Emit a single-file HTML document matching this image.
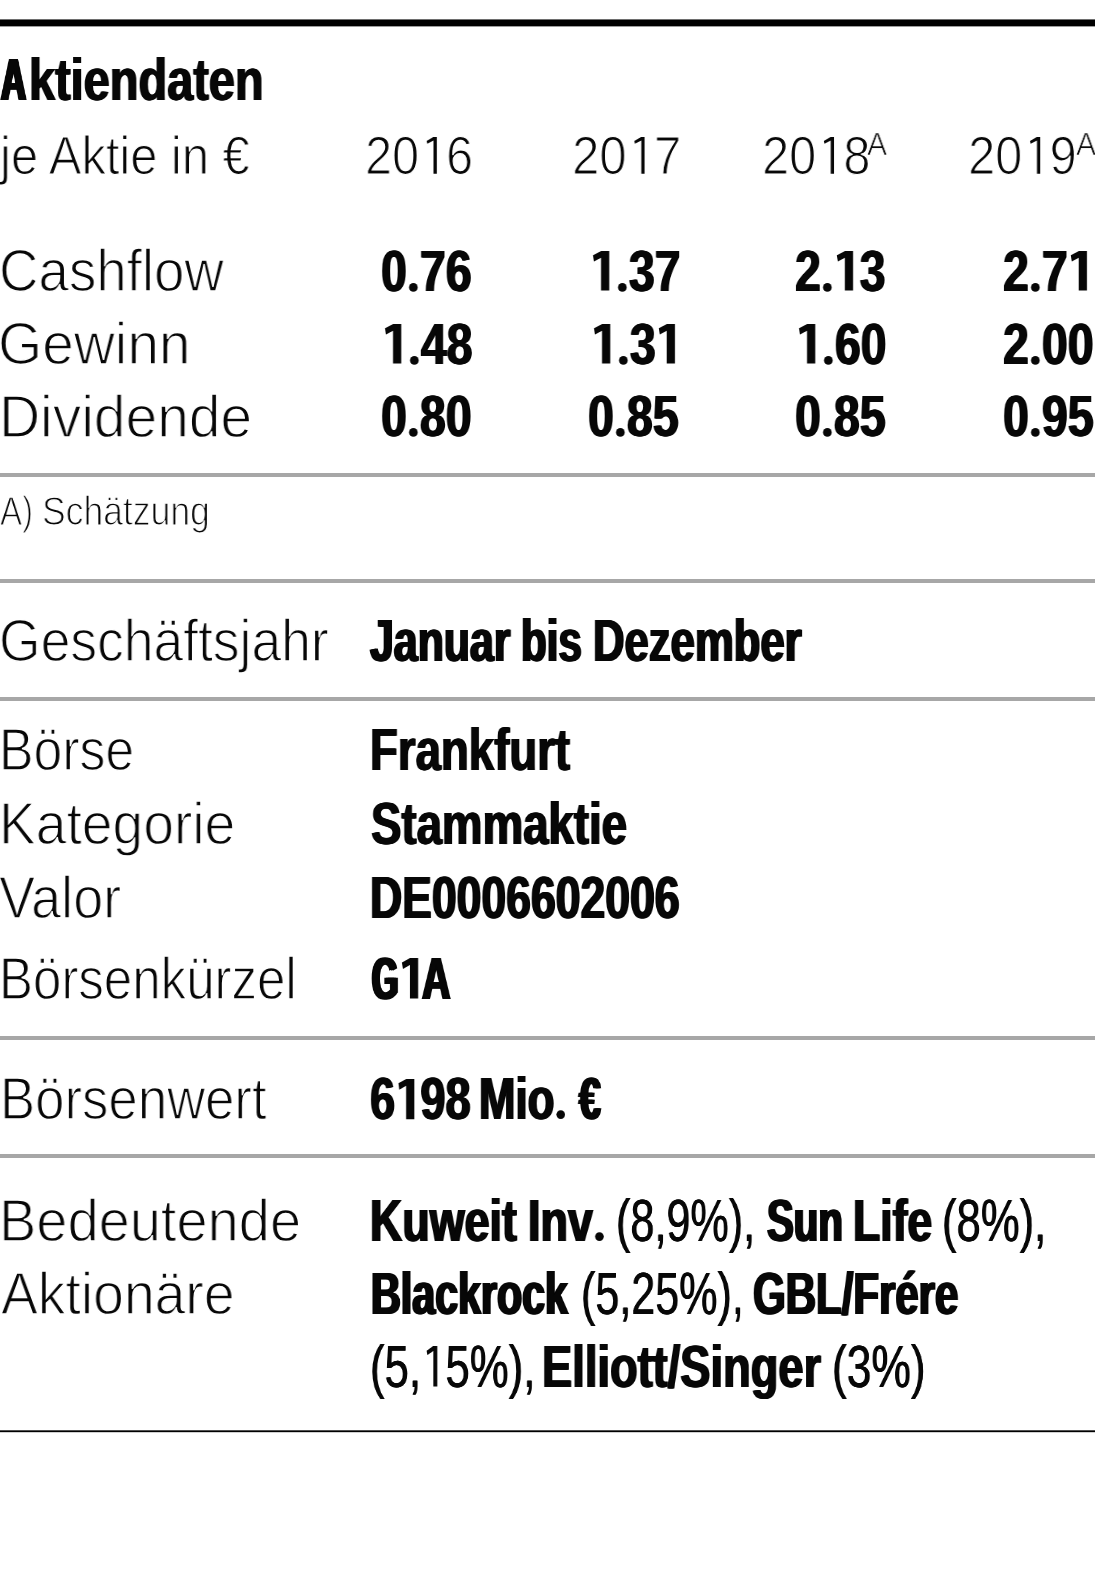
<!DOCTYPE html>
<html lang="de"><head><meta charset="utf-8"><title>Aktiendaten</title>
<style>
html,body{margin:0;padding:0;background:#fff;}
html{overflow:hidden;}
body{width:1095px;height:1595px;position:relative;overflow:hidden;font-family:"Liberation Sans",sans-serif;color:#070707;}
#page{position:absolute;left:0;top:0;width:1095px;height:1595px;overflow:hidden;background:#fff;}
.t{position:absolute;white-space:pre;line-height:1;transform-origin:0 0;margin:0;padding:0;will-change:transform;}
.L{font-weight:400;}
.B{font-weight:700;}
.r{position:absolute;left:0;width:1095px;}
.gd{display:inline-block;width:0.27783em;height:0.2002em;vertical-align:baseline;fill:#070707;overflow:visible;}
.g1{display:inline-block;width:0.55615em;height:0.68799em;vertical-align:baseline;fill:#070707;overflow:visible;}
</style></head>
<body>
<div id="page">
<div class="r" style="top:19px;height:1px;background:#6e6e6e"></div>
<div class="r" style="top:20px;height:6px;background:#000"></div>
<div class="r" style="top:26px;height:1px;background:#9c9c9c"></div>
<div class="r" style="top:473px;height:4px;background:#a7a7a7"></div>
<div class="r" style="top:579px;height:4px;background:#a7a7a7"></div>
<div class="r" style="top:697px;height:4px;background:#a7a7a7"></div>
<div class="r" style="top:1036px;height:4px;background:#a7a7a7"></div>
<div class="r" style="top:1154px;height:4px;background:#a7a7a7"></div>
<div class="r" style="top:1430px;height:1px;background:#505050"></div>
<div class="r" style="top:1431px;height:1px;background:#000"></div>
<div class="r" style="top:1432px;height:1px;background:#d0d0d0"></div>
<span class="t B" style="left:1.24px;top:50.87px;font-size:58.5px;transform:scaleX(0.5908);text-shadow:2.76px 0 0 #070707,-2.76px 0 0 #070707;">A</span>
<span class="t B" style="left:28.84px;top:50.87px;font-size:58.5px;transform:scaleX(0.8018);text-shadow:0.93px 0 0 #070707,-0.93px 0 0 #070707;">ktiendaten</span>
<span class="t L" style="left:-0.19px;top:128.70px;font-size:53.5px;transform:scaleX(0.9128);-webkit-text-stroke:1.23px #fff;">je Aktie in €</span>
<span class="t L" style="left:365.47px;top:128.90px;font-size:53.5px;transform:scaleX(0.9080);-webkit-text-stroke:1.23px #fff;">20<svg class="g1" viewBox="0 0 1139 1409" preserveAspectRatio="none"><polygon points="729,0 729,1409 592,1409 592,135 327,259 300,157 582,0"/></svg>6</span>
<span class="t L" style="left:572.24px;top:128.90px;font-size:53.5px;transform:scaleX(0.9178);-webkit-text-stroke:1.23px #fff;">20<svg class="g1" viewBox="0 0 1139 1409" preserveAspectRatio="none"><polygon points="728,0 728,1409 593,1409 593,135 328,259 301,157 583,0"/></svg>7</span>
<span class="t L" style="left:761.56px;top:128.90px;font-size:53.5px;transform:scaleX(0.9107);-webkit-text-stroke:1.23px #fff;">20<svg class="g1" viewBox="0 0 1139 1409" preserveAspectRatio="none"><polygon points="729,0 729,1409 592,1409 592,135 327,259 300,157 582,0"/></svg>8</span>
<span class="t L" style="left:867.46px;top:129.33px;font-size:31.5px;transform:scaleX(0.9559);-webkit-text-stroke:0.72px #fff;">A</span>
<span class="t L" style="left:967.96px;top:128.90px;font-size:53.5px;transform:scaleX(0.9134);-webkit-text-stroke:1.23px #fff;">20<svg class="g1" viewBox="0 0 1139 1409" preserveAspectRatio="none"><polygon points="729,0 729,1409 593,1409 593,135 328,259 301,157 583,0"/></svg>9</span>
<span class="t L" style="left:1076.26px;top:129.33px;font-size:31.5px;transform:scaleX(0.9559);-webkit-text-stroke:0.72px #fff;">A</span>
<span class="t L" style="left:-1.40px;top:242.45px;font-size:59.0px;transform:scaleX(0.9265);-webkit-text-stroke:1.36px #fff;">Cashflow</span>
<span class="t L" style="left:-1.53px;top:314.65px;font-size:59.0px;transform:scaleX(0.9620);-webkit-text-stroke:1.36px #fff;">Gewinn</span>
<span class="t L" style="left:-0.57px;top:388.05px;font-size:59.0px;transform:scaleX(0.9647);-webkit-text-stroke:1.36px #fff;">Dividende</span>
<span class="t B" style="left:381.42px;top:242.72px;font-size:57.5px;transform:scaleX(0.8094);text-shadow:0.95px 0 0 #070707,-0.95px 0 0 #070707;">0<svg class="gd" viewBox="0 0 569 410" preserveAspectRatio="none"><ellipse cx="284" cy="263" rx="191" ry="155"/></svg>76</span>
<span class="t B" style="left:589.77px;top:242.72px;font-size:57.5px;transform:scaleX(0.8094);text-shadow:0.95px 0 0 #070707,-0.95px 0 0 #070707;"><svg class="g1" viewBox="0 0 1139 1409" preserveAspectRatio="none"><polygon points="847,0 847,1409 486,1409 486,240 175,378 134,152 491,0"/></svg><svg class="gd" viewBox="0 0 569 410" preserveAspectRatio="none"><ellipse cx="284" cy="263" rx="191" ry="155"/></svg>37</span>
<span class="t B" style="left:795.36px;top:242.72px;font-size:57.5px;transform:scaleX(0.8094);text-shadow:0.95px 0 0 #070707,-0.95px 0 0 #070707;">2<svg class="gd" viewBox="0 0 569 410" preserveAspectRatio="none"><ellipse cx="284" cy="263" rx="191" ry="155"/></svg><svg class="g1" viewBox="0 0 1139 1409" preserveAspectRatio="none"><polygon points="847,0 847,1409 486,1409 486,240 175,378 134,152 491,0"/></svg>3</span>
<span class="t B" style="left:1003.25px;top:242.72px;font-size:57.5px;transform:scaleX(0.8094);text-shadow:0.95px 0 0 #070707,-0.95px 0 0 #070707;">2<svg class="gd" viewBox="0 0 569 410" preserveAspectRatio="none"><ellipse cx="284" cy="263" rx="191" ry="155"/></svg>7<svg class="g1" viewBox="0 0 1139 1409" preserveAspectRatio="none"><polygon points="847,0 847,1409 486,1409 486,240 175,378 134,152 491,0"/></svg></span>
<span class="t B" style="left:381.95px;top:315.92px;font-size:57.5px;transform:scaleX(0.8094);text-shadow:0.95px 0 0 #070707,-0.95px 0 0 #070707;"><svg class="g1" viewBox="0 0 1139 1409" preserveAspectRatio="none"><polygon points="847,0 847,1409 486,1409 486,240 175,378 134,152 491,0"/></svg><svg class="gd" viewBox="0 0 569 410" preserveAspectRatio="none"><ellipse cx="284" cy="263" rx="191" ry="155"/></svg>48</span>
<span class="t B" style="left:590.73px;top:315.92px;font-size:57.5px;transform:scaleX(0.8094);text-shadow:0.95px 0 0 #070707,-0.95px 0 0 #070707;"><svg class="g1" viewBox="0 0 1139 1409" preserveAspectRatio="none"><polygon points="847,0 847,1409 486,1409 486,240 175,378 134,152 491,0"/></svg><svg class="gd" viewBox="0 0 569 410" preserveAspectRatio="none"><ellipse cx="284" cy="263" rx="191" ry="155"/></svg>3<svg class="g1" viewBox="0 0 1139 1409" preserveAspectRatio="none"><polygon points="847,0 847,1409 486,1409 486,240 175,378 134,152 491,0"/></svg></span>
<span class="t B" style="left:796.28px;top:315.92px;font-size:57.5px;transform:scaleX(0.8094);text-shadow:0.95px 0 0 #070707,-0.95px 0 0 #070707;"><svg class="g1" viewBox="0 0 1139 1409" preserveAspectRatio="none"><polygon points="847,0 847,1409 486,1409 486,240 175,378 134,152 491,0"/></svg><svg class="gd" viewBox="0 0 569 410" preserveAspectRatio="none"><ellipse cx="284" cy="263" rx="191" ry="155"/></svg>60</span>
<span class="t B" style="left:1003.46px;top:315.92px;font-size:57.5px;transform:scaleX(0.8094);text-shadow:0.95px 0 0 #070707,-0.95px 0 0 #070707;">2<svg class="gd" viewBox="0 0 569 410" preserveAspectRatio="none"><ellipse cx="284" cy="263" rx="191" ry="155"/></svg>00</span>
<span class="t B" style="left:381.07px;top:387.92px;font-size:57.5px;transform:scaleX(0.8094);text-shadow:0.95px 0 0 #070707,-0.95px 0 0 #070707;">0<svg class="gd" viewBox="0 0 569 410" preserveAspectRatio="none"><ellipse cx="284" cy="263" rx="191" ry="155"/></svg>80</span>
<span class="t B" style="left:588.00px;top:387.92px;font-size:57.5px;transform:scaleX(0.8094);text-shadow:0.95px 0 0 #070707,-0.95px 0 0 #070707;">0<svg class="gd" viewBox="0 0 569 410" preserveAspectRatio="none"><ellipse cx="284" cy="263" rx="191" ry="155"/></svg>85</span>
<span class="t B" style="left:795.45px;top:387.92px;font-size:57.5px;transform:scaleX(0.8094);text-shadow:0.95px 0 0 #070707,-0.95px 0 0 #070707;">0<svg class="gd" viewBox="0 0 569 410" preserveAspectRatio="none"><ellipse cx="284" cy="263" rx="191" ry="155"/></svg>85</span>
<span class="t B" style="left:1002.55px;top:387.92px;font-size:57.5px;transform:scaleX(0.8094);text-shadow:0.95px 0 0 #070707,-0.95px 0 0 #070707;">0<svg class="gd" viewBox="0 0 569 410" preserveAspectRatio="none"><ellipse cx="284" cy="263" rx="191" ry="155"/></svg>95</span>
<span class="t L" style="left:0.48px;top:490.91px;font-size:40.5px;transform:scaleX(0.8174);-webkit-text-stroke:1.25px #fff;">A)</span>
<span class="t L" style="left:41.66px;top:490.91px;font-size:40.5px;transform:scaleX(0.8773);-webkit-text-stroke:1.25px #fff;">Schätzung</span>
<span class="t L" style="left:-1.42px;top:611.65px;font-size:59.0px;transform:scaleX(0.9059);-webkit-text-stroke:1.36px #fff;">Geschäftsjahr</span>
<span class="t B" style="left:370.00px;top:611.67px;font-size:58.5px;transform:scaleX(0.7322);text-shadow:1.42px 0 0 #070707,-1.42px 0 0 #070707;">Januar</span>
<span class="t B" style="left:521.41px;top:611.67px;font-size:58.5px;transform:scaleX(0.7195);text-shadow:1.52px 0 0 #070707,-1.52px 0 0 #070707;">bis</span>
<span class="t B" style="left:593.49px;top:611.67px;font-size:58.5px;transform:scaleX(0.7461);text-shadow:1.31px 0 0 #070707,-1.31px 0 0 #070707;">Dezember</span>
<span class="t L" style="left:-1.17px;top:720.65px;font-size:59.0px;transform:scaleX(0.8772);-webkit-text-stroke:1.36px #fff;">Börse</span>
<span class="t L" style="left:-1.50px;top:795.25px;font-size:59.0px;transform:scaleX(0.9353);-webkit-text-stroke:1.36px #fff;">Kategorie</span>
<span class="t L" style="left:-0.62px;top:869.05px;font-size:59.0px;transform:scaleX(0.9153);-webkit-text-stroke:1.36px #fff;">Valor</span>
<span class="t L" style="left:-1.10px;top:949.65px;font-size:59.0px;transform:scaleX(0.8644);-webkit-text-stroke:1.36px #fff;">Börsenkürzel</span>
<span class="t B" style="left:370.12px;top:721.07px;font-size:58.5px;transform:scaleX(0.7794);text-shadow:1.08px 0 0 #070707,-1.08px 0 0 #070707;">Frankfurt</span>
<span class="t B" style="left:371.24px;top:794.67px;font-size:58.5px;transform:scaleX(0.7796);text-shadow:1.08px 0 0 #070707,-1.08px 0 0 #070707;">Stammaktie</span>
<span class="t B" style="left:370.30px;top:869.05px;font-size:59.0px;transform:scaleX(0.7549);text-shadow:1.21px 0 0 #070707,-1.21px 0 0 #070707;">DE0006602006</span>
<span class="t B" style="left:372.06px;top:949.65px;font-size:59.0px;transform:scaleX(0.5703);text-shadow:2.97px 0 0 #070707,-2.97px 0 0 #070707;">G</span>
<span class="t B" style="left:398.85px;top:949.65px;font-size:59.0px;transform:scaleX(0.7800);text-shadow:1.04px 0 0 #070707,-1.04px 0 0 #070707;"><svg class="g1" viewBox="0 0 1139 1409" preserveAspectRatio="none"><polygon points="849,0 849,1409 484,1409 484,240 173,378 132,152 489,0"/></svg></span>
<span class="t B" style="left:422.08px;top:949.65px;font-size:59.0px;transform:scaleX(0.6667);text-shadow:1.93px 0 0 #070707,-1.93px 0 0 #070707;">A</span>
<span class="t L" style="left:-0.36px;top:1069.85px;font-size:59.0px;transform:scaleX(0.8935);-webkit-text-stroke:1.36px #fff;">Börsenwert</span>
<span class="t B" style="left:369.82px;top:1070.27px;font-size:58.5px;transform:scaleX(0.7731);text-shadow:1.12px 0 0 #070707,-1.12px 0 0 #070707;">6<svg class="g1" viewBox="0 0 1139 1409" preserveAspectRatio="none"><polygon points="852,0 852,1409 481,1409 481,240 170,378 129,152 486,0"/></svg>98</span>
<span class="t B" style="left:479.17px;top:1070.27px;font-size:58.5px;transform:scaleX(0.7488);text-shadow:1.29px 0 0 #070707,-1.29px 0 0 #070707;">Mio<svg class="gd" viewBox="0 0 569 410" preserveAspectRatio="none"><ellipse cx="284" cy="266" rx="203" ry="152"/></svg></span>
<span class="t B" style="left:579.07px;top:1070.27px;font-size:58.5px;transform:scaleX(0.6715);text-shadow:1.92px 0 0 #070707,-1.92px 0 0 #070707;">€</span>
<span class="t L" style="left:-1.48px;top:1192.25px;font-size:59.0px;transform:scaleX(0.9491);-webkit-text-stroke:1.36px #fff;">Bedeutende</span>
<span class="t L" style="left:1.35px;top:1264.65px;font-size:59.0px;transform:scaleX(0.9368);-webkit-text-stroke:1.36px #fff;">Aktionäre</span>
<span class="t B" style="left:370.43px;top:1191.67px;font-size:58.5px;transform:scaleX(0.7658);text-shadow:1.17px 0 0 #070707,-1.17px 0 0 #070707;">Kuweit</span>
<span class="t B" style="left:528.32px;top:1191.67px;font-size:58.5px;transform:scaleX(0.7671);text-shadow:1.16px 0 0 #070707,-1.16px 0 0 #070707;">Inv<svg class="gd" viewBox="0 0 569 410" preserveAspectRatio="none"><ellipse cx="284" cy="266" rx="199" ry="152"/></svg></span>
<span class="t L" style="left:616.25px;top:1192.25px;font-size:59.0px;transform:scaleX(0.7320);text-shadow:0.45px 0 0 #070707,-0.45px 0 0 #070707;">(8,9%),</span>
<span class="t B" style="left:766.98px;top:1191.67px;font-size:58.5px;transform:scaleX(0.6868);text-shadow:1.79px 0 0 #070707,-1.79px 0 0 #070707;">Sun</span>
<span class="t B" style="left:853.37px;top:1191.67px;font-size:58.5px;transform:scaleX(0.7609);text-shadow:1.21px 0 0 #070707,-1.21px 0 0 #070707;">Life</span>
<span class="t L" style="left:942.32px;top:1192.25px;font-size:59.0px;transform:scaleX(0.7397);text-shadow:0.45px 0 0 #070707,-0.45px 0 0 #070707;">(8%),</span>
<span class="t B" style="left:370.94px;top:1264.87px;font-size:58.5px;transform:scaleX(0.7041);text-shadow:1.64px 0 0 #070707,-1.64px 0 0 #070707;">Blackrock</span>
<span class="t L" style="left:580.95px;top:1265.45px;font-size:59.0px;transform:scaleX(0.7301);text-shadow:0.45px 0 0 #070707,-0.45px 0 0 #070707;">(5,25%),</span>
<span class="t B" style="left:752.92px;top:1264.87px;font-size:58.5px;transform:scaleX(0.7179);text-shadow:1.53px 0 0 #070707,-1.53px 0 0 #070707;">GBL/Frére</span>
<span class="t L" style="left:370.21px;top:1337.85px;font-size:59.0px;transform:scaleX(0.7417);text-shadow:0.45px 0 0 #070707,-0.45px 0 0 #070707;">(5,<svg class="g1" viewBox="0 0 1139 1409" preserveAspectRatio="none"><polygon points="753,0 753,1409 568,1409 568,174 293,309 258,164 558,0"/></svg>5%),</span>
<span class="t B" style="left:542.07px;top:1338.27px;font-size:58.5px;transform:scaleX(0.7738);text-shadow:1.12px 0 0 #070707,-1.12px 0 0 #070707;">Elliott/Singer</span>
<span class="t L" style="left:831.98px;top:1337.85px;font-size:59.0px;transform:scaleX(0.7511);text-shadow:0.45px 0 0 #070707,-0.45px 0 0 #070707;">(3%)</span>
</div>
</body></html>
